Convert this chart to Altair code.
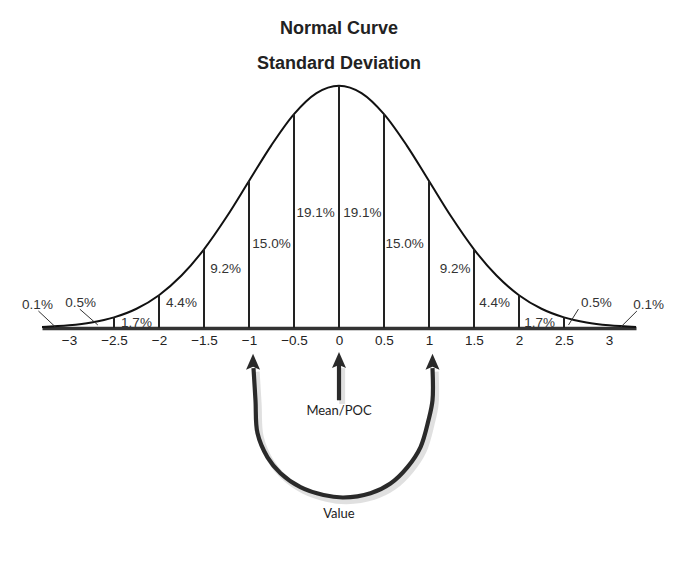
import altair as alt
import pandas as pd

# Normal curve (x in SD units, height as density)
curve_x = [-3.3, -3.0, -2.75, -2.5, -2.25, -2.0, -1.75, -1.5, -1.25, -1.0, -0.75, -0.5, -0.25, 0.0,
           0.25, 0.5, 0.75, 1.0, 1.25, 1.5, 1.75, 2.0, 2.25, 2.5, 2.75, 3.0, 3.3]
curve_y = [0.0017, 0.0044, 0.0091, 0.0175, 0.0317, 0.054, 0.0863, 0.1295, 0.1826, 0.242, 0.3011, 0.3521, 0.3867, 0.3989,
           0.3867, 0.3521, 0.3011, 0.242, 0.1826, 0.1295, 0.0863, 0.054, 0.0317, 0.0175, 0.0091, 0.0044, 0.0017]

# Vertical division lines
div_x = [-2.5, -2.0, -1.5, -1.0, -0.5, 0.0, 0.5, 1.0, 1.5, 2.0, 2.5]
div_top = [0.0175, 0.054, 0.1295, 0.242, 0.3521, 0.3989, 0.3521, 0.242, 0.1295, 0.054, 0.0175]

# Percentage labels
pct_text = ["0.1%", "0.5%", "1.7%", "4.4%", "9.2%", "15.0%", "19.1%",
            "19.1%", "15.0%", "9.2%", "4.4%", "1.7%", "0.5%", "0.1%"]
pct_x = [-3.35, -2.87, -2.25, -1.75, -1.26, -0.75, -0.26,
         0.26, 0.73, 1.29, 1.73, 2.23, 2.86, 3.44]
pct_y = [0.031, 0.035, 0.0017, 0.035, 0.091, 0.132, 0.183,
         0.183, 0.132, 0.091, 0.035, 0.0017, 0.035, 0.031]

# Leader lines for the tail labels
lead_id = [0, 0, 1, 1, 2, 2, 3, 3]
lead_x = [-3.34, -3.15, -2.88, -2.68, 2.66, 2.55, 3.31, 3.12]
lead_y = [0.028, 0.0016, 0.031, 0.005, 0.031, 0.005, 0.028, 0.0]

tick_values = [-3, -2.5, -2, -1.5, -1, -0.5, 0, 0.5, 1, 1.5, 2, 2.5, 3]

# Annotation below the axis: U-shaped arrow and straight arrow
u_x = [-0.95, -0.928, -0.906, -0.794, -0.65, -0.428, -0.172, 0.05, 0.35, 0.572, 0.761, 0.906, 0.994, 1.039, 1.039]
u_y = [-0.066, -0.119, -0.173, -0.213, -0.239, -0.262, -0.275, -0.279, -0.272, -0.256, -0.229, -0.196, -0.152, -0.119, -0.066]
shaft_x = [0.0, 0.0]
shaft_y = [-0.06, -0.119]
head_x = [-0.955, 0.0, 1.039]
head_y = [-0.059, -0.056, -0.059]
note_text = ["Mean/POC", "Value"]
note_x = [0.0, 0.0]
note_y = [-0.143, -0.313]

curve = pd.DataFrame({"x": curve_x, "y": curve_y})
divs = pd.DataFrame({"x": div_x, "top": div_top})
pcts = pd.DataFrame({"x": pct_x, "y": pct_y, "t": pct_text})
leads = pd.DataFrame({"g": lead_id, "x": lead_x, "y": lead_y})
u = pd.DataFrame({"i": list(range(len(u_x))), "x": u_x, "y": u_y})
shaft = pd.DataFrame({"x": shaft_x, "y": shaft_y})
heads = pd.DataFrame({"x": head_x, "y": head_y})
notes = pd.DataFrame({"x": note_x, "y": note_y, "t": note_text})

xscale = alt.Scale(domain=[-3.3, 3.3], nice=False, zero=False)
yscale = alt.Scale(domain=[0, 0.4], nice=False)

X = alt.X("x:Q", scale=xscale, title=None,
          axis=alt.Axis(values=tick_values, format="~g", grid=False, ticks=False,
                        labelPadding=5, labelFont="Liberation Sans", labelFontSize=13.5,
                        labelColor="#222", domainColor="#333", domainWidth=3.5,
                        labelFlush=False))
Xp = alt.X("x:Q", scale=xscale)
Y = alt.Y("y:Q", scale=yscale, axis=None)
Xs = alt.X("xs:Q", scale=xscale)
Ys = alt.Y("ys:Q", scale=yscale, axis=None)

curve_l = alt.Chart(curve).mark_line(color="#111", strokeWidth=2, interpolate="monotone").encode(x=X, y=Y)

div_l = alt.Chart(divs).transform_calculate(base="0").mark_rule(color="#222", strokeWidth=2).encode(
    x=Xp, y=alt.Y("top:Q", scale=yscale, axis=None), y2="base:Q")

pct_l = alt.Chart(pcts).mark_text(font="Liberation Sans", fontSize=13.5, color="#333",
                                  baseline="alphabetic", align="center").encode(
    x=Xp, y=Y, text="t:N")

lead_l = alt.Chart(leads).mark_line(color="#333", strokeWidth=1).encode(
    x=Xp, y=Y, detail="g:N")

# soft drop shadow (shifted copy of the same data)
u_sh = alt.Chart(u).transform_calculate(xs="datum.x + 0.035", ys="datum.y - 0.006").mark_line(
    color="#999", strokeWidth=6, opacity=0.3, interpolate="catmull-rom").encode(x=Xs, y=Ys, order="i:Q")
shaft_sh = alt.Chart(shaft).transform_calculate(xs="datum.x + 0.035", ys="datum.y - 0.006").mark_line(
    color="#999", strokeWidth=6, opacity=0.3).encode(x=Xs, y=Ys)

u_l = alt.Chart(u).mark_line(color="#2a2a2a", strokeWidth=4.2, interpolate="catmull-rom").encode(
    x=Xp, y=Y, order="i:Q")

shaft_l = alt.Chart(shaft).mark_line(color="#2a2a2a", strokeWidth=4.2).encode(x=Xp, y=Y)

arrow_shape = "M0,-1L0.7,0.6L0,0.3L-0.7,0.6Z"
head_l = alt.Chart(heads).mark_point(shape=arrow_shape, size=400, filled=True,
                                     color="#2a2a2a", opacity=1).encode(x=Xp, y=Y)

note_l = alt.Chart(notes).mark_text(font="Lato", fontSize=13, color="#222",
                                    baseline="alphabetic").encode(
    x=Xp, y=Y, text="t:N")

chart = alt.layer(
    u_sh, shaft_sh, curve_l, div_l, lead_l, pct_l, u_l, shaft_l, head_l, note_l
).properties(
    width=594, height=243,
    autosize=alt.AutoSizeParams(type="none"),
    padding={"left": 34, "top": 77, "right": 30, "bottom": 215},
    title=alt.TitleParams(text=["Normal Curve", "Standard Deviation"], font="Liberation Sans",
                          fontSize=18, fontWeight="bold", color="#222", lineHeight=35,
                          anchor="middle", offset=9),
).configure_view(stroke=None)

chart.save("out.html", embed_options={"renderer": "svg", "actions": False})
